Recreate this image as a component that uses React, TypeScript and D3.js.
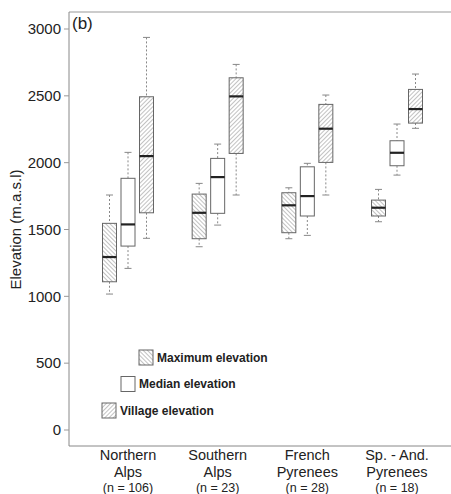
import React from "react";
import * as d3 from "d3";

const regions = ["Northern Alps", "Southern Alps", "French Pyrenees", "Sp. - And. Pyrenees"];
const regionLine1 = ["Northern", "Southern", "French", "Sp. - And."];
const regionLine2 = ["Alps", "Alps", "Pyrenees", "Pyrenees"];
const regionN = ["(n = 106)", "(n = 23)", "(n = 28)", "(n = 18)"];
const series = ["Maximum elevation", "Median elevation", "Village elevation"];
const yTicks = [0, 500, 1000, 1500, 2000, 2500, 3000];

// [whiskerLow, q1, median, q3, whiskerHigh] per region
const maxElev = [
  [1017, 1109, 1294, 1546, 1758],
  [1371, 1431, 1625, 1765, 1845],
  [1431, 1476, 1681, 1775, 1812],
  [1558, 1601, 1663, 1720, 1800],
];
const medianElev = [
  [1209, 1376, 1538, 1883, 2077],
  [1533, 1621, 1892, 2032, 2139],
  [1456, 1601, 1750, 1969, 1995],
  [1907, 1977, 2074, 2164, 2289],
];
const villageElev = [
  [1434, 1625, 2049, 2493, 2937],
  [1758, 2069, 2496, 2635, 2735],
  [1758, 2002, 2254, 2436, 2506],
  [2257, 2296, 2401, 2548, 2663],
];

const W = 451;
const H = 494;

export default function App() {
  const plotLeft = 69;
  const plotTop = 12;
  const plotBottom = 446;
  const plotRight = 451;
  const y = d3.scaleLinear().domain([0, 3000]).range([430, 29]);
  const x = d3.scalePoint<string>().domain(regions).range([128, 397]);
  const offsets = [-18.5, 0, 18.5];
  const boxW = 14;
  const data = [maxElev, medianElev, villageElev];
  const fills = ["url(#hatchMax)", "#fff", "url(#hatchVil)"];
  const font = "Liberation Sans, Arial, sans-serif";

  const legendItems = [
    { x: 139, y: 350, label: series[0], fill: fills[0] },
    { x: 121, y: 376.5, label: series[1], fill: fills[1] },
    { x: 102, y: 403, label: series[2], fill: fills[2] },
  ];

  return (
    <svg width={W} height={H} style={{ position: "absolute", left: 0, top: 0, background: "#fff" }}>
      <defs>
        <pattern id="hatchMax" width="3" height="3" patternUnits="userSpaceOnUse" patternTransform="rotate(-45)">
          <rect width="3" height="3" fill="#fff" />
          <line x1="0" y1="0" x2="0" y2="3" stroke="#8f8f8f" strokeWidth="1.1" />
        </pattern>
        <pattern id="hatchVil" width="3" height="3" patternUnits="userSpaceOnUse" patternTransform="rotate(45)">
          <rect width="3" height="3" fill="#fff" />
          <line x1="0" y1="0" x2="0" y2="3" stroke="#8f8f8f" strokeWidth="1.1" />
        </pattern>
      </defs>
      <rect x={0} y={0} width={W} height={H} fill="#fff" />
      {/* frame */}
      <line x1={plotLeft} y1={plotTop} x2={plotRight} y2={plotTop} stroke="#999" strokeWidth={1} />
      <line x1={plotLeft} y1={plotTop} x2={plotLeft} y2={plotBottom} stroke="#888" strokeWidth={1} />
      <line x1={plotLeft} y1={plotBottom} x2={plotRight} y2={plotBottom} stroke="#888" strokeWidth={1} />
      {/* y ticks */}
      {yTicks.map((t) => (
        <g key={t}>
          <line x1={plotLeft - 5} x2={plotLeft} y1={y(t)} y2={y(t)} stroke="#999" />
          <text x={plotLeft - 8} y={y(t)} dy="0.35em" textAnchor="end" fontFamily={font} fontSize={15} fill="#222">
            {t}
          </text>
        </g>
      ))}
      <text
        transform={`translate(21, ${y(1500)}) rotate(-90)`}
        textAnchor="middle"
        fontFamily={font}
        fontSize={15}
        fill="#222"
      >
        Elevation (m.a.s.l)
      </text>
      <text x={72} y={29} fontFamily={font} fontSize={17} fill="#222">(b)</text>
      {/* boxes */}
      {regions.map((r, ri) =>
        data.map((s, si) => {
          const [lo, q1, med, q3, hi] = s[ri];
          const cx = (x(r) as number) + offsets[si];
          return (
            <g key={r + si}>
              <line x1={cx} x2={cx} y1={y(hi)} y2={y(q3)} stroke="#888" strokeDasharray="2,2" />
              <line x1={cx} x2={cx} y1={y(q1)} y2={y(lo)} stroke="#888" strokeDasharray="2,2" />
              <line x1={cx - 3.5} x2={cx + 3.5} y1={y(hi)} y2={y(hi)} stroke="#888" />
              <line x1={cx - 3.5} x2={cx + 3.5} y1={y(lo)} y2={y(lo)} stroke="#888" />
              <rect x={cx - boxW / 2} y={y(q3)} width={boxW} height={y(q1) - y(q3)} fill={fills[si]} stroke="#666" strokeWidth={1} />
              <line x1={cx - boxW / 2} x2={cx + boxW / 2} y1={y(med)} y2={y(med)} stroke="#222" strokeWidth={2.2} />
            </g>
          );
        })
      )}
      {/* legend */}
      {legendItems.map((l) => (
        <g key={l.label}>
          <rect x={l.x} y={l.y} width={14} height={15} fill={l.fill} stroke="#666" />
          <text x={l.x + 18} y={l.y + 7.5} dy="0.35em" fontFamily={font} fontSize={12} fontWeight="bold" fill="#222">
            {l.label}
          </text>
        </g>
      ))}
      {/* x labels */}
      {regions.map((r, i) => (
        <g key={r}>
          <text x={x(r)} y={460} textAnchor="middle" fontFamily={font} fontSize={14.5} fill="#222">{regionLine1[i]}</text>
          <text x={x(r)} y={477} textAnchor="middle" fontFamily={font} fontSize={14.5} fill="#222">{regionLine2[i]}</text>
          <text x={x(r)} y={492} textAnchor="middle" fontFamily={font} fontSize={12.5} fill="#222">{regionN[i]}</text>
        </g>
      ))}
    </svg>
  );
}
